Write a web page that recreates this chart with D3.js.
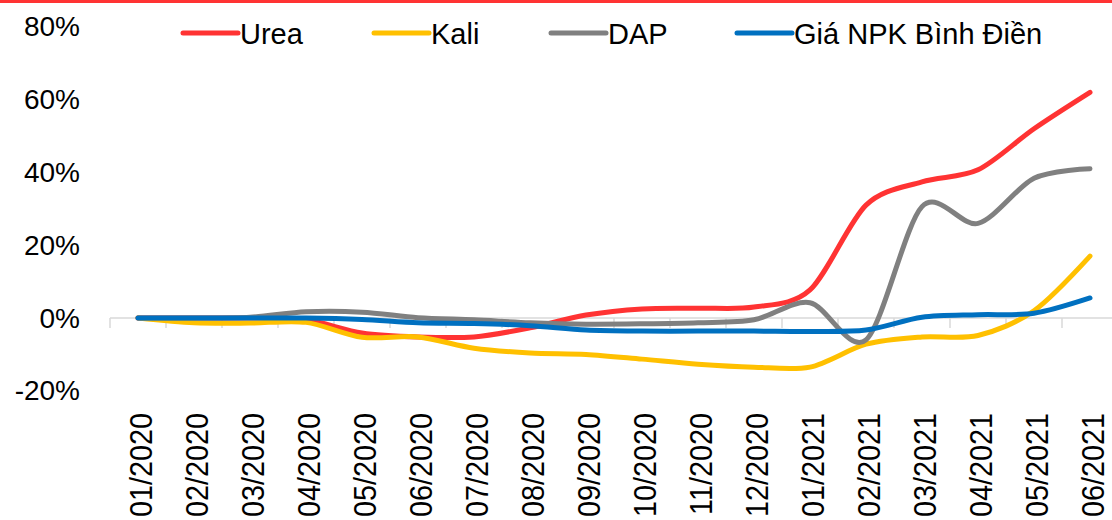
<!DOCTYPE html>
<html>
<head>
<meta charset="utf-8">
<script src="https://cdn.jsdelivr.net/npm/d3@7"></script>
<style>
  html, body { margin: 0; padding: 0; background: #fff; }
  svg { display: block; }
</style>
</head>
<body>
<svg id="chart" width="1112" height="520"></svg>
<script>
// Monthly price change since 01/2020 (%)
const months = ["01/2020","02/2020","03/2020","04/2020","05/2020","06/2020","07/2020","08/2020","09/2020",
                "10/2020","11/2020","12/2020","01/2021","02/2021","03/2021","04/2021","05/2021","06/2021"];
const urea = [0, 0, 0, -0.5, -4.1, -5.2, -5.2, -2.7, 0.8, 2.5, 2.7, 3.0, 7.7, 31.0, 37.4, 40.7, 52.0, 62.0];
const kali = [0, -1.3, -1.4, -1.2, -5.3, -5.2, -8.3, -9.6, -10.0, -11.3, -12.7, -13.5, -13.5, -7.2, -5.2, -4.8, 2.0, 17.0];
const dap  = [0, 0, 0.2, 1.7, 1.6, 0.1, -0.5, -1.3, -1.7, -1.6, -1.3, -0.5, 4.2, -6.0, 30.6, 26.0, 38.4, 41.0];
const npk  = [0, 0, 0, 0, -0.4, -1.3, -1.5, -2.1, -3.3, -3.6, -3.6, -3.6, -3.7, -3.3, 0.2, 0.9, 1.3, 5.5];
const yTicks = [-20, 0, 20, 40, 60, 80];

const seriesNames = ["Urea", "Kali", "DAP", "Giá NPK Bình Điền"];
const seriesValues = [urea, kali, dap, npk];
const seriesColors = ["#ff3333", "#ffc000", "#808080", "#0070c0"];

const svg = d3.select("#chart");
const W = 1112, H = 520;

// thin red rule across the top
svg.append("rect").attr("x", 0).attr("y", 0).attr("width", W).attr("height", 3).attr("fill", "#ff3333");

const x = d3.scaleBand().domain(months).range([110, 110 + 56 * months.length]);
const y = d3.scaleLinear().domain([-20, 80]).range([390.8, 26.8]);

// y labels
svg.append("g").selectAll("text").data(yTicks).join("text")
  .attr("x", 80).attr("y", d => y(d))
  .attr("text-anchor", "end").attr("dominant-baseline", "central")
  .attr("font-family", "'Liberation Sans', Arial, sans-serif").attr("font-size", 28)
  .attr("fill", "#000")
  .text(d => d + "%");

// category axis on the zero line
const xAxis = svg.append("g").attr("transform", `translate(0,${y(0)})`)
  .call(d3.axisBottom(x).tickSize(0).tickFormat(""));
xAxis.select(".domain").attr("stroke", "#d9d9d9").attr("stroke-width", 1.5)
  .attr("d", `M110,0H${W}`);
const edges = months.map((m) => x(m));
xAxis.selectAll(".band-tick").data(edges).join("line")
  .attr("class", "band-tick")
  .attr("x1", d => d).attr("x2", d => d).attr("y1", 0).attr("y2", 10)
  .attr("stroke", "#d9d9d9").attr("stroke-width", 1.5);

// rotated month labels (slightly narrowed along the text direction)
svg.append("g").selectAll("text").data(months).join("text")
  .attr("transform", d => `translate(${x(d) + x.bandwidth() / 2 + 2},413) rotate(-90) scale(0.9,1)`)
  .attr("text-anchor", "end").attr("dominant-baseline", "central")
  .attr("font-family", "'Liberation Sans', Arial, sans-serif").attr("font-size", 32)
  .attr("fill", "#000")
  .text(d => d);

// series lines
const line = d3.line()
  .x((d, i) => x(months[i]) + x.bandwidth() / 2)
  .y(d => y(d))
  .curve(d3.curveCardinal.tension(0.1));

svg.append("g").selectAll("path").data(seriesValues).join("path")
  .attr("d", d => line(d))
  .attr("fill", "none")
  .attr("stroke", (d, i) => seriesColors[i])
  .attr("stroke-width", 5)
  .attr("stroke-linecap", "round")
  .attr("stroke-linejoin", "round");

// legend
const legendX = [183, 374, 551, 737];
const lg = svg.append("g").selectAll("g").data(seriesNames).join("g")
  .attr("transform", (d, i) => `translate(${legendX[i]},33)`);
lg.append("line").attr("x1", 0).attr("x2", 55).attr("y1", 0).attr("y2", 0)
  .attr("stroke", (d, i) => seriesColors[i]).attr("stroke-width", 5).attr("stroke-linecap", "round");
lg.append("text").attr("x", 57).attr("y", 11)
  .attr("font-family", "'Liberation Sans', Arial, sans-serif").attr("font-size", 29)
  .attr("fill", "#000")
  .text(d => d);
</script>
</body>
</html>
